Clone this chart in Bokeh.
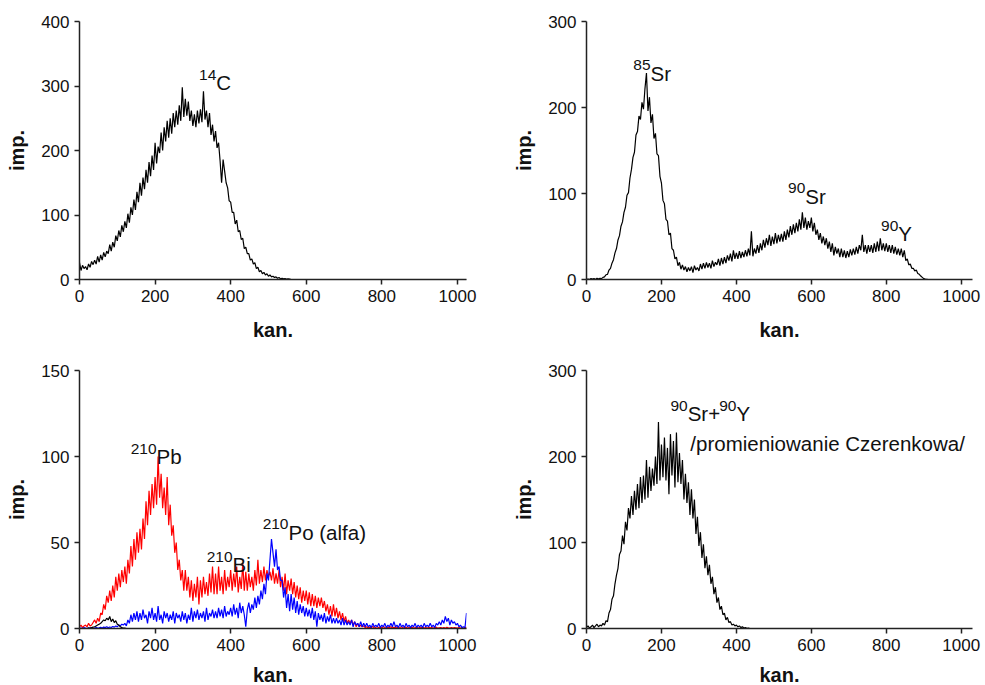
from bokeh.plotting import figure
from bokeh.layouts import column, row
from bokeh.models import Range1d, FixedTicker
from bokeh.embed import file_html
from bokeh.resources import INLINE
from bokeh.core.properties import value

# ---------------- data (channel grid every 4 channels, 0..1024) ----------------
channels = list(range(0, 1025, 4))

c14_counts = [26, 14, 22, 17, 20, 15, 24, 19, 28, 23,
              30, 24, 36, 27, 38, 30, 42, 35, 44, 40,
              54, 44, 58, 50, 68, 60, 76, 66, 84, 74,
              90, 80, 102, 88, 112, 100, 124, 108, 136, 120,
              150, 130, 158, 140, 170, 150, 182, 160, 192, 170,
              212, 180, 206, 196, 228, 200, 236, 214, 246, 220,
              250, 226, 258, 236, 262, 240, 270, 246, 298, 252,
              280, 254, 276, 246, 262, 238, 256, 236, 262, 242,
              264, 244, 292, 248, 262, 236, 258, 224, 240, 214,
              230, 204, 212, 184, 150, 186, 168, 150, 142, 122,
              120, 104, 104, 86, 92, 74, 76, 62, 64, 48,
              50, 40, 40, 30, 32, 24, 26, 17, 19, 12,
              14, 9, 11, 7, 9, 5, 7, 4, 5, 3,
              4, 2, 3, 1, 2, 1, 1.5, 0.5, 1, 0.5] + [0] * 117

sr_counts = [0, 0.5, 0, 1, 0.5, 1, 0, 1.5, 0.5, 1.5,
             1, 2.5, 3, 5.5, 6, 11, 13, 19, 23, 31,
             36, 46, 51, 62, 67, 78, 84, 98, 101, 118,
             128, 142, 148, 168, 172, 190, 186, 206, 198, 222,
             240, 196, 212, 182, 192, 164, 170, 146, 144, 120,
             112, 92, 88, 70, 68, 52, 54, 36, 34, 24,
             26, 16, 20, 12, 17, 11, 15, 9, 14, 10,
             15, 8, 16, 11, 14, 10, 18, 12, 19, 13,
             20, 14, 19, 13, 22, 15, 20, 17, 24, 16,
             25, 18, 26, 19, 28, 22, 30, 21, 34, 24,
             31, 24, 33, 25, 32, 26, 34, 27, 36, 28,
             56, 27, 36, 30, 40, 31, 42, 34, 46, 37,
             48, 40, 52, 39, 50, 41, 54, 42, 52, 44,
             53, 44, 56, 46, 58, 49, 62, 52, 64, 54,
             66, 56, 70, 58, 78, 60, 72, 58, 68, 60,
             72, 56, 66, 52, 58, 46, 54, 42, 50, 40,
             48, 36, 44, 32, 42, 28, 38, 30, 36, 26,
             36, 26, 34, 25, 33, 26, 35, 28, 36, 29,
             38, 30, 40, 34, 52, 32, 40, 30, 40, 32,
             40, 31, 42, 32, 44, 33, 48, 34, 42, 33,
             42, 32, 40, 31, 40, 30, 38, 29, 36, 28,
             36, 26, 34, 22, 24, 17, 18, 13, 13, 10,
             11, 7, 6, 4, 2.5, 1, 0.5, 0.3, 0, 0] + [0] * 27

pb_counts = [1, 2, 0.5, 1.5, 2, 1, 3, 1.5, 2, 3.5,
             5, 3, 6, 4, 9, 8, 14, 11, 19, 15,
             22, 16, 25, 18, 30, 22, 32, 24, 34, 27,
             36, 26, 40, 32, 48, 36, 52, 40, 56, 44,
             58, 46, 64, 52, 74, 60, 80, 66, 84, 70,
             88, 72, 100, 76, 90, 70, 82, 66, 88, 60,
             72, 54, 60, 44, 50, 34, 40, 28, 34, 22,
             34, 22, 30, 18, 28, 16, 26, 18, 30, 14,
             28, 18, 30, 20, 27, 19, 32, 21, 36, 20,
             32, 20, 36, 22, 30, 20, 34, 22, 30, 24,
             34, 22, 32, 24, 36, 21, 30, 23, 38, 22,
             33, 22, 32, 24, 30, 22, 34, 25, 40, 26,
             34, 27, 36, 28, 34, 30, 33, 28, 35, 26,
             32, 26, 34, 24, 30, 22, 32, 20, 28, 22,
             29, 20, 27, 18, 25, 17, 24, 15, 22, 16,
             22, 14, 21, 13, 20, 13, 19, 12, 18, 13,
             18, 12, 16, 10, 14, 8, 13, 7, 14, 7,
             12, 6, 10, 5, 9, 4, 7, 3, 5, 3,
             5, 2, 4, 1, 3, 1, 2, 1, 1.5, 0.5,
             1, 0.3, 0.8, 0.5, 1.2, 0.2, 0.7, 1, 0.4, 0.9,
             0.3, 1.1, 0.6, 0.2, 0.8, 0.5, 1, 0.3, 0.7, 0.4,
             0.9, 0.2, 0.6, 1, 0.3, 0.5, 0.8, 0.2, 0.6, 0.4,
             0.7, 0.3, 0.5, 0.9, 0.2, 0.6, 0.4, 0.8, 0.3, 0.5,
             0.2, 0.7, 0.4, 0.6, 0.3, 0.5, 0.8, 0.2, 0.4, 0.6,
             0.3, 0.5, 0.2, 0.7, 0.4, 0.3, 0.6, 0.2, 0.5, 0.4,
             0.3, 0.5, 0.2, 0.4, 0.3, 0.5, 0.6]

po_counts = [0, 0.3, 0, 0.5, 0.2, 0, 0.4, 0.1, 0.5, 0,
             0.3, 0.6, 0.2, 0.4, 0.7, 0.3, 0.8, 0.5, 1, 0.4,
             0.9, 0.6, 1.2, 0.8, 1.5, 1, 2, 1.5, 2.5, 2,
             3, 1.5, 5, 3, 8, 4, 9, 5, 10, 4,
             9, 5, 11, 6, 8, 3, 10, 6, 12, 5,
             9, 4, 13, 5, 8, 3, 10, 6, 9, 4,
             8, 5, 10, 3, 9, 6, 8, 4, 10, 5,
             9, 3, 8, 5, 12, 4, 10, 6, 11, 5,
             9, 6, 10, 4, 12, 5, 9, 7, 11, 6,
             10, 6, 12, 7, 11, 6, 13, 7, 10, 8,
             12, 7, 14, 8, 12, 6, 15, 9, 13, 8,
             1, 11, 15, 9, 14, 11, 18, 12, 19, 14,
             22, 17, 26, 20, 32, 28, 40, 52, 44, 36,
             46, 34, 36, 28, 28, 18, 24, 12, 20, 10,
             20, 11, 18, 9, 16, 8, 14, 9, 13, 7,
             12, 7, 11, 6, 12, 5, 10, 1, 9, 5,
             8, 4, 9, 3, 7, 4, 8, 3, 6, 3,
             6, 3, 5, 2, 6, 2, 5, 2, 4, 2,
             5, 1, 4, 2, 3, 1, 4, 1, 3, 1,
             3, 1, 2, 0.5, 3, 1, 2, 1, 3, 0.5,
             2, 1, 3, 0.5, 2, 1, 3, 1, 4, 1,
             2, 0.5, 3, 1, 2, 0.5, 3, 1, 2, 0.5,
             2, 1, 3, 0.5, 2, 1, 2, 0.5, 3, 1,
             2, 1, 3, 1, 2, 0.5, 3, 2, 4, 2,
             5, 3, 7, 4, 6, 2, 5, 3, 4, 2,
             3, 1, 2, 0.5, 1, 0.5, 9]

bg_counts = [0, 0, 0, 0, 0, 0, 0.2, 0.3,
             0.5, 0.8, 1, 1.5, 2, 2.5, 3, 4, 5, 4.5,
             6, 5, 7, 4, 5.5, 3.5, 4.5, 2.5, 2, 1,
             0.5, 0.3, 0.2, 0] + [0] * 225

cher_counts = [1, 3, 0.5, 2, 4, 1, 3, 5, 2, 4,
               3, 6, 4, 9, 8, 18, 22, 34, 38, 52,
               62, 70, 86, 90, 108, 98, 124, 114, 140, 128,
               154, 132, 160, 138, 168, 140, 176, 146, 178, 150,
               196, 152, 188, 160, 186, 166, 200, 168, 240, 172,
               214, 176, 222, 172, 210, 156, 226, 178, 218, 164,
               228, 170, 204, 168, 196, 150, 180, 146, 170, 132,
               162, 128, 150, 110, 130, 96, 112, 82, 98, 70,
               84, 62, 74, 52, 60, 40, 48, 30, 36, 22,
               26, 16, 18, 10, 13, 7, 8, 4, 5, 3,
               4, 2, 3, 1, 2, 0.5, 1, 0.3, 0.5, 0] + [0] * 147

x_ticks = [0, 200, 400, 600, 800, 1000]

FONT = "Liberation Sans"
AX_COL = "#222222"


def make_fig(left, right, top, bottom, fw, fh, xmax, ymax, yticks, xstand):
    p = figure(frame_width=fw, frame_height=fh,
               min_border_left=left, min_border_right=right,
               min_border_top=top, min_border_bottom=bottom,
               x_range=Range1d(0, xmax), y_range=Range1d(0, ymax),
               output_backend="svg", toolbar_location=None)
    p.outline_line_color = None
    p.xgrid.visible = False
    p.ygrid.visible = False
    p.background_fill_color = "white"
    p.border_fill_color = "white"
    p.xaxis.ticker = FixedTicker(ticks=x_ticks)
    p.yaxis.ticker = FixedTicker(ticks=yticks)
    for ax in (p.xaxis, p.yaxis):
        ax.axis_line_color = AX_COL
        ax.axis_line_width = 1.5
        ax.major_tick_line_color = AX_COL
        ax.major_tick_line_width = 1.5
        ax.major_tick_out = 5
        ax.major_tick_in = 0
        ax.minor_tick_line_color = None
        ax.major_label_text_font = FONT
        ax.major_label_text_font_size = "17px"
        ax.major_label_text_color = "#111111"
        ax.major_label_standoff = 5
        ax.axis_label_text_font = FONT
        ax.axis_label_text_font_size = "20px"
        ax.axis_label_text_font_style = "bold"
        ax.axis_label_text_color = "#111111"
    p.xaxis.axis_label = "kan."
    p.yaxis.axis_label = "imp."
    p.xaxis.axis_label_standoff = xstand
    p.yaxis.axis_label_standoff = 10
    return p


def label(p, x, y, sup, main):
    p.text(x=[x], y=[y], text=[main], text_font=value(FONT),
           text_font_size="20.5px", text_align="left",
           text_baseline="alphabetic", text_color="#111111")
    if sup:
        p.text(x=[x], y=[y], text=[sup], text_font=value(FONT),
               text_font_size="15.5px", text_align="right",
               text_baseline="alphabetic", text_color="#111111", y_offset=-8)


# panel 1: C-14
p1 = make_fig(79, 26, 21, 61, 387, 258, 1024, 400, [0, 100, 200, 300, 400], 14)
p1.line(channels, c14_counts, line_color="black", line_width=1.2)
label(p1, 362, 305, "14", "C")

# panel 2: Sr
p2 = make_fig(94, 13, 21, 61, 386, 258, 1030, 300, [0, 100, 200, 300], 14)
p2.line(channels, sr_counts, line_color="black", line_width=1.2)
label(p2, 171, 240, "85", "Sr")
label(p2, 584, 97, "90", "Sr")
label(p2, 832, 53, "90", "Y")

# panel 3: Pb/Bi/Po
p3 = make_fig(79, 26, 27, 60, 387, 258, 1024, 150, [0, 50, 100, 150], 10)
p3.line(channels, pb_counts, line_color="#ff0000", line_width=1.2)
p3.line(channels, po_counts, line_color="#0000ff", line_width=1.2)
p3.line(channels, bg_counts, line_color="black", line_width=1.2)
label(p3, 204, 100, "210", "Pb")
label(p3, 405, 37, "210", "Bi")
label(p3, 553, 56, "210", "Po (alfa)")

# panel 4: Cherenkov
p4 = make_fig(94, 13, 27, 60, 386, 258, 1030, 300, [0, 100, 200, 300], 10)
p4.line(channels, cher_counts, line_color="black", line_width=1.2)
label(p4, 270, 250, "90", "Sr+")
label(p4, 400, 250, "90", "Y")
label(p4, 277, 215, None, "/promieniowanie Czerenkowa/")

layout = column(row(p1, p2, spacing=0), row(p3, p4, spacing=0), spacing=0)
open("out.html", "w").write(file_html(layout, INLINE))
